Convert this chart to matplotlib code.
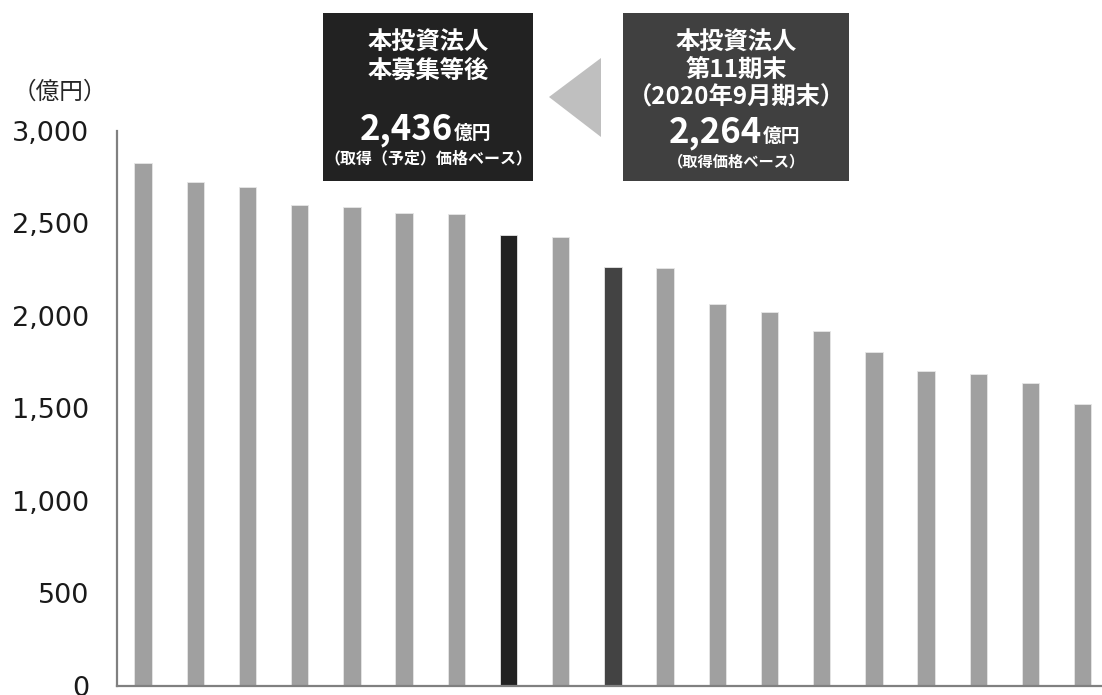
import matplotlib
matplotlib.use("Agg")
import matplotlib.pyplot as plt
from matplotlib.patches import Rectangle, Polygon
from matplotlib.ticker import FuncFormatter

# ---- data ----
values = [2829, 2726, 2699, 2598, 2589, 2558, 2550, 2436, 2429, 2264,
          2259, 2063, 2023, 1918, 1805, 1702, 1686, 1639, 1525]
highlight_after = 7   # index of 本募集等後 bar
highlight_now = 9     # index of 第11期末 bar
yticks = [0, 500, 1000, 1500, 2000, 2500, 3000]
unit_label = "（億円）"
box_left_lines = ["本投資法人", "本募集等後"]
box_left_value = "2,436"
box_left_note = "（取得（予定）価格ベース）"
box_right_lines = ["本投資法人", "第11期末", "（2020年9月期末）"]
box_right_value = "2,264"
box_right_note = "（取得価格ベース）"
value_unit = "億円"

W, H = 1102, 695
fig = plt.figure(figsize=(W / 100, H / 100), dpi=100)

def px(x, y):
    return x / W, 1 - y / H

CJK = ["Noto Sans CJK JP", "DejaVu Sans"]

# ---- main axes ----
ax_l, ax_t, ax_b, ax_r = 117, 131, 685.5, 1102
ax = fig.add_axes([ax_l / W, 1 - ax_b / H, (ax_r - ax_l) / W, (ax_b - ax_t) / H])

colors = []
for i in range(len(values)):
    if i == highlight_after:
        colors.append("#222222")
    elif i == highlight_now:
        colors.append("#434343")
    else:
        colors.append("#A0A0A0")

x = list(range(len(values)))
ax.bar(x, values, width=0.33, color=colors, edgecolor="#E6E6E6", linewidth=0.6, zorder=2)
ax.set_xlim(-0.5, 18.37)
ax.set_ylim(0, 3000)
ax.set_yticks(yticks)
ax.yaxis.set_major_formatter(FuncFormatter(lambda v, p: f"{int(v):,}"))
ax.set_xticks([])
for s in ["top", "right"]:
    ax.spines[s].set_visible(False)
for s in ["left", "bottom"]:
    ax.spines[s].set_color("#808080")
    ax.spines[s].set_linewidth(1.6)
ax.tick_params(axis="y", length=0, pad=20, labelsize=19.5, labelcolor="#1a1a1a")
for lab in ax.get_yticklabels():
    lab.set_fontfamily("DejaVu Sans")

fig.text(*px(60, 92), unit_label, ha="center", va="center", fontsize=17,
         family=CJK, color="#262626")

# ---- annotation boxes ----
def box(x0, y0, x1, y1, color):
    fig.patches.append(Rectangle(px(x0, y1), (x1 - x0) / W, (y1 - y0) / H,
                                 transform=fig.transFigure, facecolor=color,
                                 edgecolor="none", zorder=5))

box(322.5, 12.5, 533, 180.5, "#222222")
box(623, 12.5, 849, 180.5, "#404040")

tri = Polygon([px(549, 97), px(601, 58), px(601, 137)], closed=True,
              transform=fig.transFigure, facecolor="#BFBFBF", edgecolor="none", zorder=5)
fig.patches.append(tri)

def t(xp, yp, s, size, ha="center", va="center", **kw):
    fig.text(*px(xp, yp), s, ha=ha, va=va, fontsize=size, family=CJK,
             color="white", fontweight="bold", zorder=6, **kw)

# left box
cx = 428
t(cx, 43, box_left_lines[0], 17.5)
t(cx, 72, box_left_lines[1], 17.5)
t(453, 139, box_left_value, 25, ha="right", va="baseline")
t(454, 139, value_unit, 13.5, ha="left", va="baseline")
t(cx, 158, box_left_note, 11.5)

# right box
cx = 736
t(cx, 43, box_right_lines[0], 17.5)
t(cx, 70, box_right_lines[1], 17.5)
t(cx, 98, box_right_lines[2], 17.5)
t(762, 142, box_right_value, 25, ha="right", va="baseline")
t(763, 142, value_unit, 13.5, ha="left", va="baseline")
t(cx, 161, box_right_note, 11)

fig.savefig("out.png", dpi=100)
